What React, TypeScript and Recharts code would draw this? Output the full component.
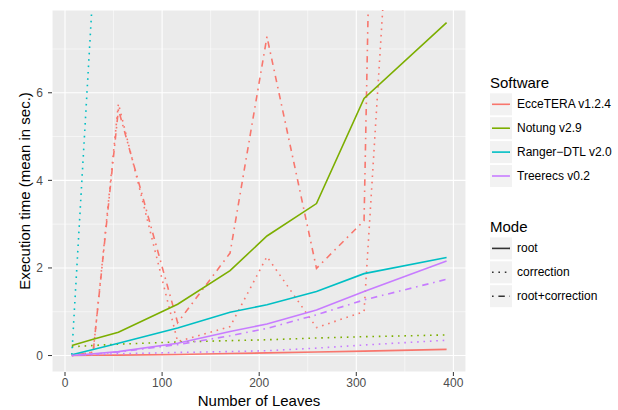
import React from 'react';
import { LineChart, Line, XAxis, YAxis, CartesianGrid, ReferenceLine } from 'recharts';

// Number of leaves (x values)
const leaves = [7, 29, 55, 116, 170, 208, 259, 308, 393];

// EcceTERA v1.2.4
const ecceteraRoot = [0, 0.005, 0.01, 0.025, 0.045, 0.06, 0.08, 0.1, 0.14];
const ecceteraCorrection = [0, 0.08, 5.75, 0.32, 0.66, 2.26, 0.64, 1.0, 31.5];
const ecceteraRootCorrection = [0, 0.08, 5.62, 0.75, 2.34, 7.28, 1.99, 3.08, 100];

// Notung v2.9
const notungRoot = [0.23, 0.37, 0.53, 1.17, 1.94, 2.73, 3.47, 5.87, 7.6];
const notungCorrection = [0.2, 0.23, 0.26, 0.31, 0.34, 0.36, 0.4, 0.43, 0.47];

// Ranger-DTL v2.0
const rangerRoot = [0.02, 0.14, 0.28, 0.63, 0.99, 1.16, 1.46, 1.87, 2.24];
const rangerCorrection = [0.02, 8.45, null, null, null, null, null, null, null];

// Treerecs v0.2
const treerecsRoot = [0, 0.04, 0.09, 0.28, 0.55, 0.72, 1.04, 1.46, 2.16];
const treerecsCorrection = [0, 0.02, 0.04, 0.07, 0.09, 0.11, 0.17, 0.24, 0.35];
const treerecsRootCorrection = [0, 0.03, 0.08, 0.25, 0.45, 0.62, 0.93, 1.27, 1.74];

const xTicks = [0, 100, 200, 300, 400];
const yTicks = [0, 2, 4, 6];
const xMinor = [50, 150, 250, 350];
const yMinor = [1, 3, 5, 7];

const softwareNames = ['EcceTERA v1.2.4', 'Notung v2.9', 'Ranger\u2212DTL v2.0', 'Treerecs v0.2'];
const softwareColors = ['#F8766D', '#7CAE00', '#00BFC4', '#C77CFF'];
const modeNames = ['root', 'correction', 'root+correction'];

const LW = 1.6;
const modeDash = ['', `${LW} ${LW * 3}`, `${LW} ${LW * 3} ${LW * 4} ${LW * 3}`];

const seriesList = [
  { key: 'eR', values: ecceteraRoot, sw: 0, mode: 0 },
  { key: 'eC', values: ecceteraCorrection, sw: 0, mode: 1 },
  { key: 'eRC', values: ecceteraRootCorrection, sw: 0, mode: 2 },
  { key: 'nR', values: notungRoot, sw: 1, mode: 0 },
  { key: 'nC', values: notungCorrection, sw: 1, mode: 1 },
  { key: 'rR', values: rangerRoot, sw: 2, mode: 0 },
  { key: 'rC', values: rangerCorrection, sw: 2, mode: 1 },
  { key: 'tR', values: treerecsRoot, sw: 3, mode: 0 },
  { key: 'tC', values: treerecsCorrection, sw: 3, mode: 1 },
  { key: 'tRC', values: treerecsRootCorrection, sw: 3, mode: 2 },
];

const data = leaves.map((x, i) => {
  const row: Record<string, number | null> = { x };
  seriesList.forEach((s) => {
    row[s.key] = s.values[i];
  });
  return row;
});

const FONT = '"Liberation Sans", Arial, Helvetica, sans-serif';

const YTitle = (props: any) => {
  const vb = props.viewBox;
  const cx = vb.x + 29.5;
  const cy = vb.y + vb.height / 2;
  return (
    <text x={cx} y={cy} transform={`rotate(-90, ${cx}, ${cy})`} textAnchor="middle" fontSize={15} fill="#000" fontFamily={FONT}>
      Execution time (mean in sec.)
    </text>
  );
};

const Legends = () => {
  const left = 490;
  const box = 22;
  const swTitleY = 82;
  const swStart = 104.3;
  const step = 23.9;
  const modeTitleY = 226;
  const modeStart = 248.4;
  return (
    <svg width={618} height={410} style={{ position: 'absolute', left: 0, top: 0, pointerEvents: 'none' }}>
      <text x={left} y={swTitleY} dominantBaseline="central" fontSize={15} fill="#000" fontFamily={FONT}>Software</text>
      {softwareNames.map((n, i) => {
        const cy = swStart + i * step;
        return (
          <g key={n}>
            <rect x={left} y={cy - box / 2} width={box} height={box} fill="#F2F2F2" />
            <line x1={left + 2} x2={left + box - 2} y1={cy} y2={cy} stroke={softwareColors[i]} strokeWidth={LW} />
            <text x={left + 27} y={cy} dominantBaseline="central" fontSize={12} fill="#000" fontFamily={FONT}>{n}</text>
          </g>
        );
      })}
      <text x={left} y={modeTitleY} dominantBaseline="central" fontSize={15} fill="#000" fontFamily={FONT}>Mode</text>
      {modeNames.map((n, i) => {
        const cy = modeStart + i * step;
        return (
          <g key={n}>
            <rect x={left} y={cy - box / 2} width={box} height={box} fill="#F2F2F2" />
            <line x1={left + 2} x2={left + box - 2} y1={cy} y2={cy} stroke="#333333" strokeWidth={LW} strokeDasharray={modeDash[i] || undefined} />
            <text x={left + 27} y={cy} dominantBaseline="central" fontSize={12} fill="#000" fontFamily={FONT}>{n}</text>
          </g>
        );
      })}
    </svg>
  );
};

export default function App() {
  return (
    <div style={{ position: 'absolute', left: 0, top: 0, width: 618, height: 410, background: '#fff', fontFamily: FONT }}>
      <LineChart width={618} height={410} data={data} margin={{ top: 10, right: 152, bottom: 0, left: 0 }}>
        <CartesianGrid fill="#EBEBEB" stroke="#FFFFFF" strokeWidth={1.1} />
        {xMinor.map((v) => (
          <ReferenceLine key={'xm' + v} x={v} stroke="#FFFFFF" strokeWidth={0.55} />
        ))}
        {yMinor.map((v) => (
          <ReferenceLine key={'ym' + v} y={v} stroke="#FFFFFF" strokeWidth={0.55} />
        ))}
        <XAxis
          dataKey="x"
          type="number"
          domain={[-13.4, 413]}
          ticks={xTicks}
          allowDataOverflow
          axisLine={false}
          tickSize={4}
          tickLine={{ stroke: '#333333' }}
          tick={{ fill: '#4D4D4D', fontSize: 12, fontFamily: FONT }}
          height={38}
          label={{ value: 'Number of Leaves', position: 'insideBottom', offset: 4, fill: '#000', fontSize: 15, fontFamily: FONT }}
        />
        <YAxis
          type="number"
          domain={[-0.376, 7.89]}
          ticks={yTicks}
          allowDataOverflow
          axisLine={false}
          tickSize={4}
          tickMargin={5}
          tickLine={{ stroke: '#333333' }}
          tick={{ fill: '#4D4D4D', fontSize: 12, fontFamily: FONT }}
          width={52}
          label={<YTitle />}
        />
        {seriesList.map((s) => (
          <Line
            key={s.key}
            dataKey={s.key}
            type="linear"
            stroke={softwareColors[s.sw]}
            strokeWidth={LW}
            strokeDasharray={modeDash[s.mode] || undefined}
            dot={false}
            activeDot={false}
            isAnimationActive={false}
            connectNulls={false}
          />
        ))}
      </LineChart>
      <Legends />
    </div>
  );
}
